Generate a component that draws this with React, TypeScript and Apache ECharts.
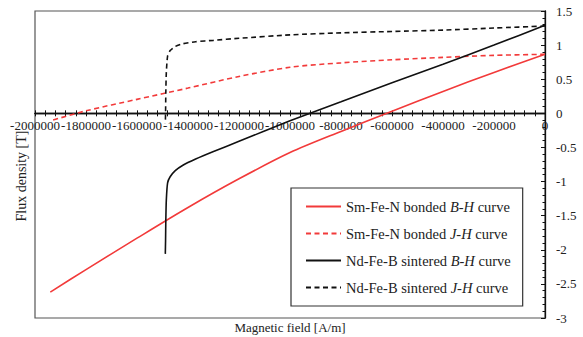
import React, { useEffect, useRef } from "react";
import * as echarts from "echarts";

// Magnetic field H [A/m] sample positions and flux density values [T]
const smH = [0, -200000, -400000, -600000, -800000, -1000000, -1200000, -1400000, -1600000, -1800000, -1940000];
const smBH = [0.865, 0.60, 0.32, 0.03, -0.265, -0.575, -0.96, -1.38, -1.83, -2.29, -2.62];
const smJH = [0.865, 0.85, 0.82, 0.785, 0.74, 0.675, 0.54, 0.37, 0.205, 0.037, -0.11];

const ndH = [0, -200000, -400000, -600000, -800000, -1000000, -1200000, -1300000, -1370000, -1420000, -1450000, -1470000, -1480000, -1485000, -1487000, -1488000, -1489000];
const ndBH = [1.29, 1.00, 0.72, 0.45, 0.17, -0.11, -0.41, -0.56, -0.67, -0.76, -0.84, -0.93, -1.02, -1.27, -1.57, -1.87, -2.06];
const ndJH = [1.28, 1.25, 1.22, 1.20, 1.18, 1.15, 1.10, 1.07, 1.05, 1.02, 0.98, 0.92, 0.84, 0.60, 0.30, 0.00, -0.15];

const seriesNames = [
  "Sm-Fe-N bonded B-H curve",
  "Sm-Fe-N bonded J-H curve",
  "Nd-Fe-B sintered B-H curve",
  "Nd-Fe-B sintered J-H curve",
];

const X_MIN = -2000000;
const X_MAX = 0;
const Y_MIN = -3;
const Y_MAX = 1.5;

const FONT = "'Liberation Serif', 'Times New Roman', serif";
const RED = "#f23a3a";
const BLACK = "#111111";
const TEXT = "#222222";

const GRID = { left: 35, right: 38, top: 11, bottom: 19 };
const H = 337;

const pairs = (xs: number[], ys: number[]) => xs.map((x, i) => [x, ys[i]]);

export default function App() {
  const ref = useRef<HTMLDivElement>(null);
  useEffect(() => {
    if (!ref.current) return;
    const chart = echarts.init(ref.current, undefined, { renderer: "svg" });
    const plotH = H - GRID.top - GRID.bottom;
    // distance from bottom of the plot up to y = 0, so the x axis sits on zero
    const zeroOffset = -(plotH * (0 - Y_MIN)) / (Y_MAX - Y_MIN);
    const xAxisBase = {
      type: "value",
      min: X_MIN,
      max: X_MAX,
      interval: 200000,
      position: "bottom",
      offset: zeroOffset,
      splitLine: { show: false },
      axisLine: { onZero: false, lineStyle: { color: "#111", width: 1.3 } },
    };
    const lineSeries = (name: string, xs: number[], ys: number[], color: string, dashed: boolean, smooth: number) => ({
      name,
      type: "line",
      data: pairs(xs, ys),
      showSymbol: false,
      symbol: "none",
      smooth,
      lineStyle: { color, width: 1.6, type: dashed ? [5, 3.5] : "solid" },
      itemStyle: { color, opacity: 0 },
    });
    chart.setOption({
      animation: false,
      grid: { ...GRID, show: true, borderColor: "#555", borderWidth: 1.2 },
      xAxis: [
        {
          ...xAxisBase,
          axisTick: { show: true, inside: false, length: 3, lineStyle: { color: "#111" } },
          minorTick: { show: true, splitNumber: 5, length: 3, lineStyle: { color: "#111" } },
          axisLabel: {
            show: true,
            margin: 6,
            fontFamily: FONT,
            fontSize: 13,
            color: TEXT,
            showMinLabel: true,
            showMaxLabel: true,
            hideOverlap: false,
            formatter: (v: number) => String(v),
          },
        },
        {
          ...xAxisBase,
          axisTick: { show: true, inside: true, length: 3, lineStyle: { color: "#111" } },
          minorTick: { show: true, splitNumber: 5, length: 3, lineStyle: { color: "#111" } },
          axisLabel: { show: false },
        },
      ],
      yAxis: {
        type: "value",
        min: Y_MIN,
        max: Y_MAX,
        interval: 0.5,
        position: "right",
        axisLine: { onZero: false, lineStyle: { color: "#111", width: 1.3 } },
        axisTick: { show: true, inside: true, length: 4, lineStyle: { color: "#111" } },
        minorTick: { show: true, splitNumber: 5, length: 2.5, lineStyle: { color: "#111" } },
        splitLine: { show: false },
        axisLabel: { margin: 11, fontFamily: FONT, fontSize: 13, color: TEXT },
      },
      legend: {
        orient: "vertical",
        left: 291,
        top: 188,
        padding: [11, 12, 11, 14],
        itemGap: 12,
        itemWidth: 35,
        itemHeight: 15,
        borderColor: "#333",
        borderWidth: 1.2,
        backgroundColor: "#fff",
        itemStyle: { opacity: 0 },
        data: seriesNames,
        formatter: (name: string) => {
          const m = name.match(/^(.*) ([BJ]-H) curve$/);
          if (!m) return name;
          return `{n|${m[1]} }{i|${m[2]}}{n| curve}`;
        },
        textStyle: {
          fontFamily: FONT,
          fontSize: 14.5,
          color: TEXT,
          rich: {
            n: { fontFamily: FONT, fontSize: 14.5, color: TEXT },
            i: { fontFamily: FONT, fontSize: 14.5, color: TEXT, fontStyle: "italic" },
          },
        },
      },
      series: [
        lineSeries(seriesNames[0], smH, smBH, RED, false, 0.3),
        lineSeries(seriesNames[1], smH, smJH, RED, true, 0.3),
        lineSeries(seriesNames[2], ndH, ndBH, BLACK, false, 0.2),
        lineSeries(seriesNames[3], ndH, ndJH, BLACK, true, 0.2),
      ],
      graphic: [
        {
          type: "text",
          x: 21,
          y: 176,
          rotation: Math.PI / 2,
          style: { text: "Flux density [T]", fontFamily: FONT, fontSize: 14, fill: TEXT, align: "center", verticalAlign: "middle" },
        },
        {
          type: "text",
          x: 290,
          y: 327,
          style: { text: "Magnetic field [A/m]", fontFamily: FONT, fontSize: 13, fill: TEXT, align: "center", verticalAlign: "middle" },
        },
      ],
    });
    return () => chart.dispose();
  }, []);
  return <div ref={ref} style={{ width: 583, height: 337, position: "absolute", left: 0, top: 0 }} />;
}
